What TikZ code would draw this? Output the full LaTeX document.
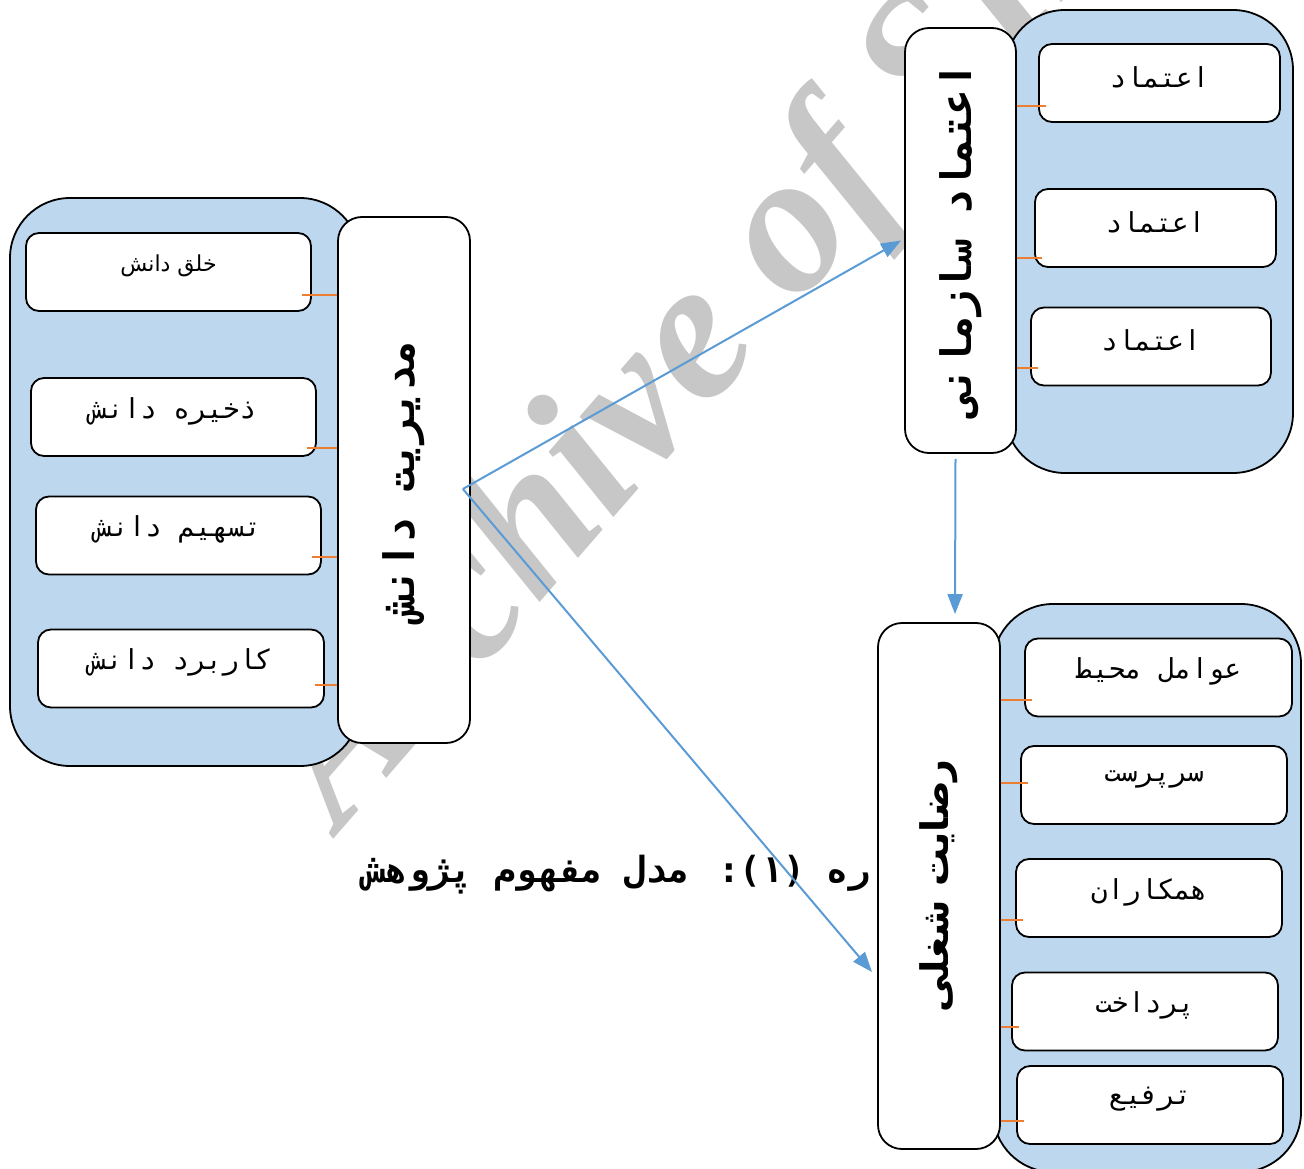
\documentclass[tikz,border=0pt]{standalone}
\usepackage{fontspec}
\usetikzlibrary{arrows.meta}
\TeXXeTstate=1
\newfontfamily\fa[Script=Arabic]{DejaVu Sans}
\newfontfamily\famono[Script=Arabic]{DejaVu Sans Mono}
\newfontfamily\wmfont{Liberation Serif}
\definecolor{grpblue}{HTML}{BDD7EE}
\definecolor{arrblue}{HTML}{5B9BD5}
\definecolor{tickorange}{HTML}{ED7D31}
\newcommand{\rl}[1]{\beginR #1\endR}
\newcommand{\itxt}[1]{\raisebox{6pt}[\height][\depth]{\beginR #1\endR}}
\newcommand{\ttlfont}{\famono\bfseries\fontsize{42}{46}\selectfont}

\begin{document}
\begin{tikzpicture}[x=1pt,y=-1pt,
  grp/.style={draw,line width=1.8pt,fill=grpblue,rounded corners=60},
  tall/.style={draw,line width=1.8pt,fill=white,rounded corners=24,inner sep=0pt},
  itm/.style={draw,line width=1.8pt,fill=white,rounded corners=13,inner sep=0pt,
    minimum height=78,font=\famono\fontsize{27.5}{30}\selectfont},
  tick/.style={draw=tickorange,line width=1.2pt},
  arr/.style={draw=arrblue,line width=2pt,-{Triangle[length=20pt,width=15pt]}},
  wmark/.style={text=black!22,rotate=49,font=\wmfont\bfseries\itshape\fontsize{200}{200}\selectfont}]
\useasboundingbox (0,0) rectangle (1304,1169);
% watermark
\node[wmark] (W) at (712,330) {Archive of SID};

% knowledge management
\draw[grp] (10,198) rectangle (360,766);
\node[tall,minimum width=132,minimum height=526] (M) at (404,480) {\rotatebox{90}{\ttlfont\rl{مدیریت دانش}}};
\node[itm,minimum width=285,font=\fa\fontsize{22}{26}\selectfont] (M1) at (168.5,272) {\itxt{خلق دانش}};
\node[itm,minimum width=285] (M2) at (173.5,417) {\itxt{ذخیره  دانش}};
\node[itm,minimum width=285] (M3) at (178.5,535.5) {\itxt{تسهیم دانش}};
\node[itm,minimum width=286] (M4) at (181,668.5) {\itxt{کاربرد دانش}};
\foreach \b/\y in {M1/295,M2/448,M3/557,M4/685}
  \draw[tick] ([xshift=-10pt]\b.east |- 0,\y) -- (M.west |- 0,\y);

% organizational trust
\draw[grp] (1005,10) rectangle (1293,473);
\node[tall,minimum width=111,minimum height=425] (E) at (960.5,240.5) {\rotatebox{90}{\ttlfont\rl{اعتماد سازمانی}}};
\node[itm,minimum width=241] (E1) at (1159.5,83) {\itxt{اعتماد}};
\node[itm,minimum width=241] (E2) at (1155.5,228) {\itxt{اعتماد}};
\node[itm,minimum width=240] (E3) at (1151,346.5) {\itxt{اعتماد}};
\foreach \b/\y in {E1/106,E2/258,E3/368}
  \draw[tick] (E.east |- 0,\y) -- ([xshift=8pt]\b.west |- 0,\y);

% caption
\node[font=\famono\bfseries\fontsize{36}{40}\selectfont] (C) at (617,875) {\rl{ره (۱): مدل مفهوم پژوهش}};

% job satisfaction
\draw[grp] (993,604) rectangle (1301,1172);
\node[tall,minimum width=122,minimum height=526] (R) at (939,886) {\rotatebox{90}{\fa\bfseries\fontsize{38}{42}\selectfont\rl{رضایت شغلی}}};
\node[itm,minimum width=267] (R1) at (1158.5,677.5) {\itxt{عوامل محیط}};
\node[itm,minimum width=266] (R2) at (1154,785) {\itxt{سرپرست}};
\node[itm,minimum width=266] (R3) at (1149,898) {\itxt{همکاران}};
\node[itm,minimum width=266] (R4) at (1145,1011.5) {\itxt{پرداخت}};
\node[itm,minimum width=266] (R5) at (1150,1105) {\itxt{ترفیع}};
\foreach \b/\y in {R1/700,R2/783,R3/920,R4/1027,R5/1121}
  \draw[tick] (R.east |- 0,\y) -- ([xshift=8pt]\b.west |- 0,\y);

% arrows
\coordinate (Rin) at (872,972);
\draw[arr] ([shift={(-8,9)}]M.east) -- ([xshift=-3pt]E.west);
\draw[arr] ([shift={(-8,9)}]M.east) -- (Rin);
\draw[arr] ([shift={(-5,5)}]E.south) -- ([shift={(16,-8)}]R.north);
\end{tikzpicture}
\end{document}
